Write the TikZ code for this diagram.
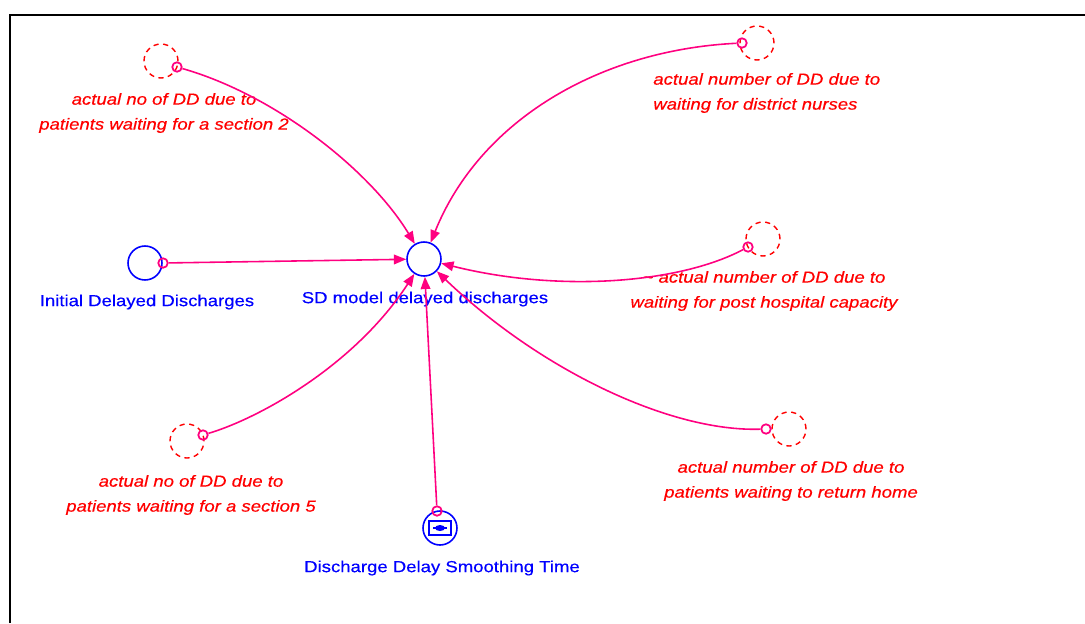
\documentclass[tikz,border=0pt]{standalone}
\usepackage{fontspec}
\newfontfamily\vf[FakeStretch=1.16,FakeBold=0.4]{Liberation Sans}
\usetikzlibrary{arrows.meta}
\definecolor{conn}{RGB}{255,0,128}
\definecolor{vblue}{RGB}{0,0,255}
\definecolor{vred}{RGB}{255,0,0}
\begin{document}
\begin{tikzpicture}[x=0.02cm,y=-0.02cm,
  varc/.style={circle,draw=vblue,line width=0.9pt,minimum size=0.68cm,inner sep=0},
  ghost/.style={circle,draw=vred,dash pattern=on 3pt off 2.5pt,line width=0.8pt,minimum size=0.68cm,inner sep=0},
  tail/.style={circle,draw=conn,line width=1pt,minimum size=0.19cm,inner sep=0},
  link/.style={draw=conn,line width=0.9pt,-{Triangle[length=7pt,width=5.5pt]}},
  rlab/.style={text=vred,font=\vf\itshape\fontsize{9.1pt}{14.2pt}\selectfont,align=center,inner sep=0},
  rlabl/.style={text=vred,font=\vf\itshape\fontsize{9.1pt}{14.2pt}\selectfont,align=left,inner sep=0},
  blab/.style={text=vblue,font=\vf\fontsize{9.1pt}{14.2pt}\selectfont,inner sep=0}
]
\useasboundingbox (0,0) rectangle (1085,623);
\fill[white] (0,0) rectangle (1085,623);
% frame
\draw[line width=1.7pt] (10,623) -- (10,15) -- (1085,15);

% variables
\node[varc] (sd) at (424,259) {};
\node[blab] (sdl) at (425,299) {SD model delayed discharges};
\node[varc] (ini) at (145,263) {};
\node[blab] (inil) at (147,302) {Initial Delayed Discharges};
\node[varc] (dst) at (440,528) {};
\node[blab] (dstl) at (442,568) {Discharge Delay Smoothing Time};
\draw[vblue,line width=0.8pt] (429,521) rectangle (451,535);
\fill[vblue] (440,528) ellipse (5 and 3);
\draw[vblue,line width=0.8pt] (433,528) -- (447,528);

% ghost variables
\node[ghost] (g1) at (161,61) {};
\node[ghost] (g2) at (757,43) {};
\node[ghost] (g4) at (763,239) {};
\node[ghost] (g5) at (789,429) {};
\node[ghost] (g7) at (187,441) {};

% labels
\begin{scope}
\clip (37,0) rectangle (1085,623);
\node[rlab] (l1) at (164,113) {actual no of DD due to\\patients waiting for a section 2};
\end{scope}
\node[rlabl,anchor=west] (l2) at (653,93) {actual number of DD due to\\waiting for district nurses};
\node[rlab] (l4) at (764,291) {\char`\~\ actual number of DD due to\\waiting for post hospital capacity};
\node[rlab] (l5) at (791,481) {actual number of DD due to\\patients waiting to return home};
\node[rlab] (l7) at (191,495) {actual no of DD due to\\patients waiting for a section 5};

% connector tails
\node[tail] (t1) at (177,67) {};
\node[tail] (t2) at (742,43) {};
\node[tail] (t3) at (163,263) {};
\node[tail] (t4) at (748,247) {};
\node[tail] (t5) at (766,429) {};
\node[tail] (t6) at (437,511) {};
\node[tail] (t7) at (203,435) {};

% connectors
\draw[link] (t1) .. controls (275,95) and (370,170) .. (sd);
\draw[link] (t2) .. controls (600,50) and (480,120) .. (sd);
\draw[link] (t3) -- (sd);
\draw[link] (t4) .. controls (680,283) and (560,293) .. (sd);
\draw[link] (t5) .. controls (670,432) and (540,370) .. (sd);
\draw[link] (t6) -- (sd);
\draw[link] (t7) .. controls (260,418) and (355,365) .. (sd);
\end{tikzpicture}
\end{document}
